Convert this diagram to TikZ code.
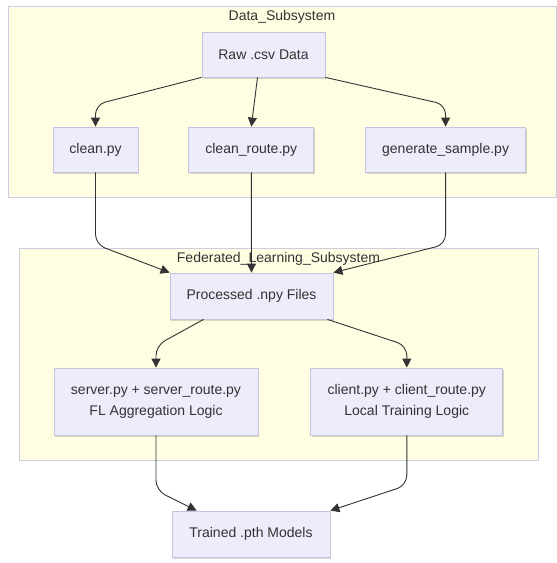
\documentclass[tikz,border=0pt]{standalone}
\usepackage{fontspec}
\setmainfont{Liberation Sans}
\usetikzlibrary{arrows.meta,positioning,calc,shadows}
\definecolor{flowInk}{HTML}{333333}
\definecolor{flowBox}{HTML}{ECECFA}
\definecolor{flowLine}{HTML}{C4C4E0}
\definecolor{flowZone}{HTML}{FFFDE2}
\definecolor{flowZoneLine}{HTML}{CDCDE2}

\begin{document}
\begin{tikzpicture}[x=1pt,y=-1pt,font=\fontsize{14}{21}\selectfont,text=flowInk,
    >={Triangle[length=9pt,width=9pt]},
    box/.style={draw=flowLine,fill=flowBox,line width=0.8pt,align=center,inner sep=0pt,
      drop shadow={shadow xshift=1pt,shadow yshift=-1.5pt,fill=black,opacity=.15}},
    zone/.style={draw=flowZoneLine,fill=flowZone,line width=1pt,inner sep=0pt},
    edge/.style={->,draw=flowInk,line width=0.9pt,rounded corners=10pt}]
  \useasboundingbox (0,0) rectangle (557,563);
  % subsystems
  \node[zone,minimum width=548pt,minimum height=191pt] (datazone) at (282,101.5) {};
  \node[anchor=north,inner sep=0pt] (datatitle) at ([yshift=-5pt]datazone.north) {Data\_Subsystem};
  \node[zone,minimum width=519pt,minimum height=212pt] (flzone) at (278.5,354) {};
  \node[anchor=north,inner sep=0pt] (fltitle) at ([yshift=-5pt]flzone.north) {Federated\_Learning\_Subsystem};
  % data side
  \node[box,minimum width=123pt,minimum height=45pt] (raw) at (263.5,54.5) {Raw .csv Data};
  \node[box,minimum width=85pt,minimum height=45pt] (clean) at (95.5,149.5) {clean.py};
  \node[box,minimum width=125pt,minimum height=45pt,right=50pt of clean] (cleanroute) {clean\_route.py};
  \node[box,minimum width=160pt,minimum height=45pt,right=51pt of cleanroute] (gensample) {generate\_sample.py};
  % learning side
  \node[box,minimum width=163pt,minimum height=46pt] (processed) at (251.5,296) {Processed .npy Files};
  \node[box,minimum width=204pt,minimum height=67pt] (server) at (156,401.5) {server.py + server\_route.py\\FL Aggregation Logic};
  \node[box,minimum width=192pt,minimum height=67pt,right=52pt of server] (client) {client.py + client\_route.py\\Local Training Logic};
  \node[box,minimum width=158pt,minimum height=46pt] (trained) at (251,534) {Trained .pth Models};
  % flows
  \draw[edge] (raw.south west) -- ($(clean.north)+(0,-22)$) -- (clean.north);
  \draw[edge] ($(raw.south)+(-6,0)$) -- (cleanroute.north);
  \draw[edge] (raw.south east) -- ($(gensample.north)+(0,-22)$) -- (gensample.north);
  \draw[edge] (clean.south) -- ($(clean.south)+(0,72)$) -- (processed.north west);
  \draw[edge] (cleanroute.south) -- (processed.north);
  \draw[edge] (gensample.south) -- ($(gensample.south)+(0,72)$) -- (processed.north east);
  \draw[edge] ($(processed.south west)+(34,0)$) -- ($(server.north)+(0,-22)$) -- (server.north);
  \draw[edge] ($(processed.south east)+(-6,0)$) -- ($(client.north)+(0,-22)$) -- (client.north);
  \draw[edge] (server.south) -- ($(server.south)+(0,55)$) -- ($(trained.north west)+(25,0)$);
  \draw[edge] (client.south) -- ($(client.south)+(0,50)$) -- (trained.north east);
\end{tikzpicture}
\end{document}
